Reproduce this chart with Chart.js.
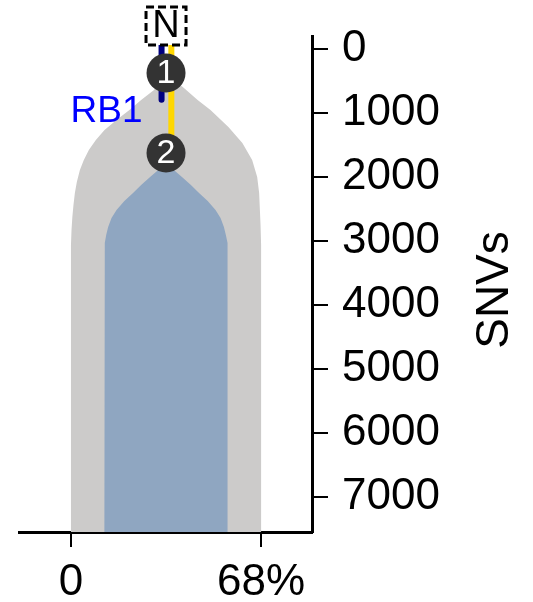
<!DOCTYPE html>
<html><head><meta charset="utf-8">
<script src="https://cdn.jsdelivr.net/npm/chart.js@4/dist/chart.umd.min.js"></script>
<style>html,body{margin:0;padding:0;background:#fff;overflow:hidden}</style>
</head><body>
<canvas id="c" width="533" height="602"></canvas>
<script>
// ---- data ----
// clone 1 (grey) outline: left edge top->bottom, right edge bottom->top
const greyLeftPct  = [34.0, 29.7, 25.1, 20.9, 16.3, 12.0, 8.9, 6.4, 4.6, 3.2, 2.1, 1.4, 0.9, 0.5, 0.2, 0, 0];
const greyLeftSNV  = [371, 637, 793, 950, 1106, 1263, 1419, 1576, 1732, 1889, 2077, 2249, 2437, 2624, 2828, 3063, 7560];
const greyRightPct = [68, 68, 67.8, 67.3, 66.6, 64.8, 61.3, 56.3, 49.9, 45.3, 40.4, 34.0];
const greyRightSNV = [7560, 3063, 2750, 2249, 1998, 1732, 1466, 1216, 950, 793, 606, 371];
// clone 2 (blue) outline
const blueLeftPct  = [34.0, 31.2, 28.3, 25.1, 22.2, 19.1, 16.3, 14.5, 13.3, 12.6, 12.1, 11.9, 12.0];
const blueLeftSNV  = [1623, 1889, 1998, 2124, 2249, 2374, 2515, 2640, 2781, 2906, 3031, 3297, 7560];
const blueRightPct = [56.0, 56.1, 55.9, 55.4, 54.7, 53.5, 51.7, 48.9, 45.8, 42.9, 39.7, 36.8, 34.0];
const blueRightSNV = [7560, 3297, 3031, 2906, 2781, 2640, 2515, 2374, 2249, 2124, 1998, 1889, 1623];
// tree nodes
const nodeLabels = ['N', '1', '2'];
const nodePct    = [34, 34, 34];
const nodeSNV    = [-365, 371, 1623];
// branches
const rb1BranchPct   = [32.4, 32.4];
const rb1BranchSNV   = [-365, 790];
const trunkBranchPct = [35.9, 35.9];
const trunkBranchSNV = [-365, 1623];
const mutationLabel  = 'RB1';
const mutationLabelSNV = 973;
// axes
const yTickValues = [0, 1000, 2000, 3000, 4000, 5000, 6000, 7000];
const xTickValues = [0, 68];
const xTickLabels = ['0', '68%'];
const yTitle = 'SNVs';

const FONT = "'Liberation Sans', Arial, Helvetica, sans-serif";
const pts = (xs, ys) => xs.map((x, i) => ({x: x, y: ys[i]}));
const greyShape = pts(greyLeftPct, greyLeftSNV).concat(pts(greyRightPct, greyRightSNV));
const blueShape = pts(blueLeftPct, blueLeftSNV).concat(pts(blueRightPct, blueRightSNV));
const noPad = s => { s.paddingTop = 0; s.paddingBottom = 0; s.paddingLeft = 0; s.paddingRight = 0; };

const overlay = {
  id: 'overlay',
  afterDatasetsDraw(chart) {
    const ctx = chart.ctx, xs = chart.scales.x, ys = chart.scales.y;
    ctx.save();
    nodeLabels.forEach((lab, i) => {
      const px = xs.getPixelForValue(nodePct[i]), py = ys.getPixelForValue(nodeSNV[i]);
      ctx.textAlign = 'center'; ctx.textBaseline = 'middle';
      if (i === 0) {
        ctx.fillStyle = '#fff';
        ctx.fillRect(px - 20, py - 19, 40, 38);
        ctx.setLineDash([8, 4]);
        ctx.lineWidth = 3; ctx.strokeStyle = '#000';
        ctx.strokeRect(px - 20, py - 19, 40, 38);
        ctx.setLineDash([]);
        ctx.fillStyle = '#000';
        ctx.font = '38px ' + FONT;
        ctx.fillText(lab, px, py + 1);
      } else {
        ctx.fillStyle = '#fff';
        ctx.font = '34px ' + FONT;
        ctx.fillText(lab, px, py + 1);
      }
    });
    ctx.fillStyle = '#0000ff';
    ctx.font = '37px ' + FONT;
    ctx.textAlign = 'right'; ctx.textBaseline = 'middle';
    ctx.fillText(mutationLabel, xs.getPixelForValue(rb1BranchPct[0]) - 19, ys.getPixelForValue(mutationLabelSNV));
    ctx.fillStyle = '#000';
    ctx.font = '46px ' + FONT;
    ctx.translate(chart.chartArea.right + 183, (chart.chartArea.top + chart.chartArea.bottom) / 2 + 6);
    ctx.rotate(-Math.PI / 2);
    ctx.textAlign = 'center'; ctx.textBaseline = 'middle';
    ctx.fillText(yTitle, 0, 0);
    ctx.restore();
  }
};

new Chart(document.getElementById('c'), {
  type: 'scatter',
  data: {
    datasets: [
      {data: greyShape, showLine: true, fill: 'shape', backgroundColor: '#cccbca', borderWidth: 0, pointRadius: 0, tension: 0, order: 5},
      {data: blueShape, showLine: true, fill: 'shape', backgroundColor: '#8fa6c1', borderWidth: 0, pointRadius: 0, tension: 0, order: 4},
      {data: pts(rb1BranchPct, rb1BranchSNV), showLine: true, borderColor: '#000080', borderWidth: 6, borderCapStyle: 'round', pointRadius: 0, clip: false, order: 3},
      {data: pts(trunkBranchPct, trunkBranchSNV), showLine: true, borderColor: '#ffd700', borderWidth: 6, borderCapStyle: 'round', pointRadius: 0, clip: false, order: 2},
      {data: pts(nodePct, nodeSNV), showLine: false, pointRadius: [0, 19.5, 19.5], pointBackgroundColor: '#333333', pointBorderWidth: 0, clip: false, order: 1}
    ]
  },
  options: {
    responsive: false, animation: false, devicePixelRatio: 1,
    layout: {padding: {left: 17, top: 36, right: 0, bottom: 0}},
    plugins: {legend: {display: false}, tooltip: {enabled: false}},
    scales: {
      x: {
        type: 'linear', position: 'bottom', min: -18.4, max: 86.2,
        grid: {drawOnChartArea: false, drawTicks: true, tickLength: 15, color: '#000', lineWidth: 2},
        border: {display: true, color: '#000', width: 3},
        ticks: {color: '#000', font: {family: FONT, size: 44}, padding: 9,
                callback: (v) => xTickLabels[xTickValues.indexOf(v)]},
        afterBuildTicks: s => { s.ticks = xTickValues.map(v => ({value: v})); },
        afterFit: s => { s.height = 70; noPad(s); }
      },
      y: {
        type: 'linear', position: 'right', reverse: true, min: -208, max: 7552,
        grid: {drawOnChartArea: false, drawTicks: true, tickLength: 16, color: '#000', lineWidth: 2},
        border: {display: true, color: '#000', width: 3},
        ticks: {color: '#000', font: {family: FONT, size: 44}, padding: 14,
                callback: (v) => String(v)},
        afterBuildTicks: s => { s.ticks = yTickValues.map(v => ({value: v})); },
        afterFit: s => { s.width = 221; noPad(s); }
      }
    }
  },
  plugins: [overlay]
});
</script>
</body></html>
